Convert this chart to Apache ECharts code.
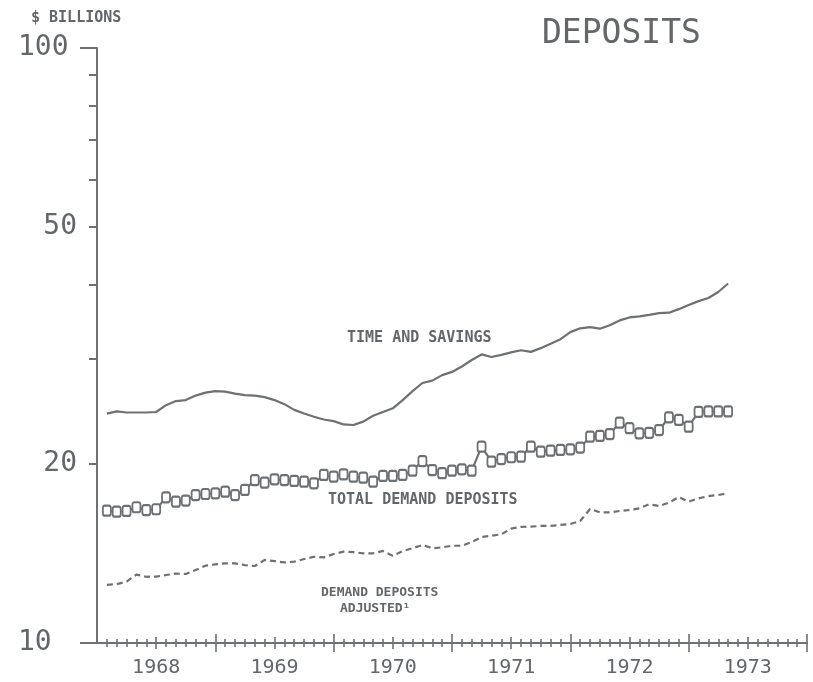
<!DOCTYPE html>
<html><head><meta charset="utf-8">
<script src="https://cdn.jsdelivr.net/npm/echarts@6/dist/echarts.min.js"></script>
<style>html,body{margin:0;padding:0;background:#fff}#c{width:813px;height:682px}</style>
</head><body><div id="c"></div>
<script>
// ---- data ----
const months = [
 '1968-01','1968-02','1968-03','1968-04','1968-05','1968-06','1968-07','1968-08','1968-09','1968-10','1968-11','1968-12',
 '1969-01','1969-02','1969-03','1969-04','1969-05','1969-06','1969-07','1969-08','1969-09','1969-10','1969-11','1969-12',
 '1970-01','1970-02','1970-03','1970-04','1970-05','1970-06','1970-07','1970-08','1970-09','1970-10','1970-11','1970-12',
 '1971-01','1971-02','1971-03','1971-04','1971-05','1971-06','1971-07','1971-08','1971-09','1971-10','1971-11','1971-12',
 '1972-01','1972-02','1972-03','1972-04','1972-05','1972-06','1972-07','1972-08','1972-09','1972-10','1972-11','1972-12',
 '1973-01','1973-02','1973-03','1973-04'];
const yearLabels = ['1968','1969','1970','1971','1972','1973'];
const yMajorLabels = [10, 100];
const yMinorLabels = [20, 50];
const timeSavings = [
 24.3,24.5,24.4,24.4,24.4,24.45,25.1,25.5,25.6,26.05,26.35,26.5,
 26.45,26.25,26.1,26.05,25.9,25.6,25.2,24.65,24.3,24.0,23.75,23.6,
 23.3,23.25,23.55,24.1,24.45,24.8,25.6,26.5,27.35,27.6,28.2,28.55,
 29.15,29.9,30.55,30.25,30.5,30.8,31.05,30.85,31.3,31.85,32.4,33.3,
 33.8,33.95,33.75,34.2,34.85,35.25,35.4,35.6,35.85,35.9,36.4,37.0,
 37.55,38.0,38.9,40.2];
const totalDemand = [
 16.69,16.62,16.67,16.91,16.73,16.78,17.57,17.28,17.35,17.73,17.80,17.85,
 17.96,17.73,18.08,18.79,18.60,18.84,18.79,18.72,18.67,18.55,19.16,19.03,
 19.21,19.03,18.96,18.67,19.09,19.09,19.16,19.48,20.22,19.53,19.29,19.48,
 19.58,19.48,21.38,20.17,20.38,20.52,20.57,21.38,20.97,21.05,21.11,21.16,
 21.30,22.22,22.28,22.45,23.46,22.96,22.51,22.56,22.80,23.95,23.71,23.10,
 24.45,24.5,24.5,24.5];
const demandAdjusted = [
 12.52,12.56,12.68,13.03,12.92,12.93,13.01,13.08,13.06,13.26,13.49,13.56,
 13.61,13.61,13.52,13.47,13.79,13.73,13.66,13.70,13.84,13.96,13.93,14.11,
 14.24,14.21,14.15,14.15,14.28,14.01,14.27,14.43,14.61,14.43,14.48,14.57,
 14.57,14.78,15.07,15.14,15.23,15.57,15.67,15.69,15.73,15.74,15.79,15.85,
 16.03,16.80,16.58,16.58,16.67,16.73,16.84,17.11,16.99,17.21,17.59,17.28,
 17.50,17.66,17.73,17.85];

// ---- build ----
const C = '#6d7174';
const TXT = '#63676a';
const MONO = '"DejaVu Sans Mono", monospace';
const monthIndex = m => { const p = m.split('-'); return (+p[0] - 1968) * 12 + (+p[1]); };
const xs = months.map(monthIndex);
const pair = arr => arr.map((v, i) => [xs[i], v]);

const monthTicks = [], midTicks = [], yearTicks = [];
for (let i = 1; i <= 72; i++) {
  if (i % 12 === 0) yearTicks.push(i);
  else if (i % 6 === 0) midTicks.push(i);
  else monthTicks.push(i);
}
const yearLabelPos = yearLabels.map((y, i) => i * 12 + 6);

function xa(extra) {
  return Object.assign({
    type: 'value', min: 0, max: 72, position: 'bottom', gridIndex: 0, offset: 0,
    splitLine: {show: false}, axisLine: {show: false}, axisLabel: {show: false}, axisTick: {show: false}
  }, extra);
}
const tickLS = {color: C, width: 1.6};

const option = {
  animation: false,
  backgroundColor: '#fff',
  grid: {left: 97, right: 6, top: 48, bottom: 39, containLabel: false},
  xAxis: [
    xa({axisLine: {show: true, lineStyle: {color: C, width: 2}},
        axisTick: {show: true, length: 4, customValues: monthTicks, lineStyle: tickLS},
        axisLabel: {show: true, customValues: yearLabelPos,
          formatter: v => yearLabels[Math.round((v - 6) / 12)],
          margin: 15, fontSize: 20, fontFamily: MONO, color: TXT}}),
    xa({axisTick: {show: true, inside: true, length: 4, customValues: monthTicks, lineStyle: tickLS}}),
    xa({axisTick: {show: true, length: 6, customValues: midTicks, lineStyle: tickLS}}),
    xa({axisTick: {show: true, inside: true, length: 6, customValues: midTicks, lineStyle: tickLS}}),
    xa({axisTick: {show: true, length: 9, customValues: yearTicks, lineStyle: tickLS}}),
    xa({axisTick: {show: true, inside: true, length: 9, customValues: yearTicks, lineStyle: tickLS}})
  ],
  yAxis: [
    {type: 'log', logBase: 10, min: 10, max: 100, position: 'left', offset: 0,
     splitLine: {show: false},
     axisLine: {show: true, lineStyle: {color: C, width: 2}},
     axisTick: {show: true, length: 8, customValues: [20,30,40,50,60,70,80,90], lineStyle: {color: C, width: 2}},
     axisLabel: {show: true, customValues: yMinorLabels, margin: 20, fontSize: 28, fontFamily: MONO, color: TXT}},
    {type: 'log', logBase: 10, min: 10, max: 100, position: 'left', offset: 0,
     splitLine: {show: false}, axisLine: {show: false},
     axisTick: {show: true, length: 17, customValues: yMajorLabels, lineStyle: {color: C, width: 2}},
     axisLabel: {show: true, customValues: yMajorLabels, margin: 79, align: 'left', fontSize: 28, fontFamily: MONO, color: TXT}}
  ],
  series: [
    {name: 'TIME AND SAVINGS', type: 'line', xAxisIndex: 0, yAxisIndex: 0, data: pair(timeSavings),
     symbol: 'none', lineStyle: {color: C, width: 2.2}},
    {name: 'TOTAL DEMAND DEPOSITS', type: 'line', xAxisIndex: 0, yAxisIndex: 0, data: pair(totalDemand),
     symbol: 'emptyRoundRect', symbolSize: [8, 10], showAllSymbol: true,
     itemStyle: {color: C, borderColor: C, borderWidth: 2.4}, lineStyle: {color: C, width: 2.2}},
    {name: 'DEMAND DEPOSITS ADJUSTED', type: 'line', xAxisIndex: 0, yAxisIndex: 0, data: pair(demandAdjusted),
     symbol: 'none', lineStyle: {color: C, width: 2.2, type: [6, 4]}}
  ],
  graphic: [
    {type: 'text', x: 31, y: 18, style: {text: '$ BILLIONS', fontSize: 15, fontWeight: 'bold', fontFamily: MONO, fill: TXT, align: 'left', verticalAlign: 'middle'}},
    {type: 'text', x: 542, y: 34, style: {text: 'DEPOSITS', fontSize: 33, fontFamily: MONO, fill: TXT, align: 'left', verticalAlign: 'middle'}},
    {type: 'text', x: 347, y: 338, style: {text: 'TIME AND SAVINGS', fontSize: 15, fontWeight: 'bold', fontFamily: MONO, fill: TXT, align: 'left', verticalAlign: 'middle'}},
    {type: 'text', x: 328, y: 500, style: {text: 'TOTAL DEMAND DEPOSITS', fontSize: 15, fontWeight: 'bold', fontFamily: MONO, fill: TXT, align: 'left', verticalAlign: 'middle'}},
    {type: 'text', x: 321, y: 593, style: {text: 'DEMAND DEPOSITS', fontSize: 13, fontWeight: 'bold', fontFamily: MONO, fill: TXT, align: 'left', verticalAlign: 'middle'}},
    {type: 'text', x: 340, y: 609, style: {text: 'ADJUSTED¹', fontSize: 13, fontWeight: 'bold', fontFamily: MONO, fill: TXT, align: 'left', verticalAlign: 'middle'}}
  ]
};
const chart = echarts.init(document.getElementById('c'), null, {renderer: 'canvas'});
chart.setOption(option);
</script>
</body></html>
